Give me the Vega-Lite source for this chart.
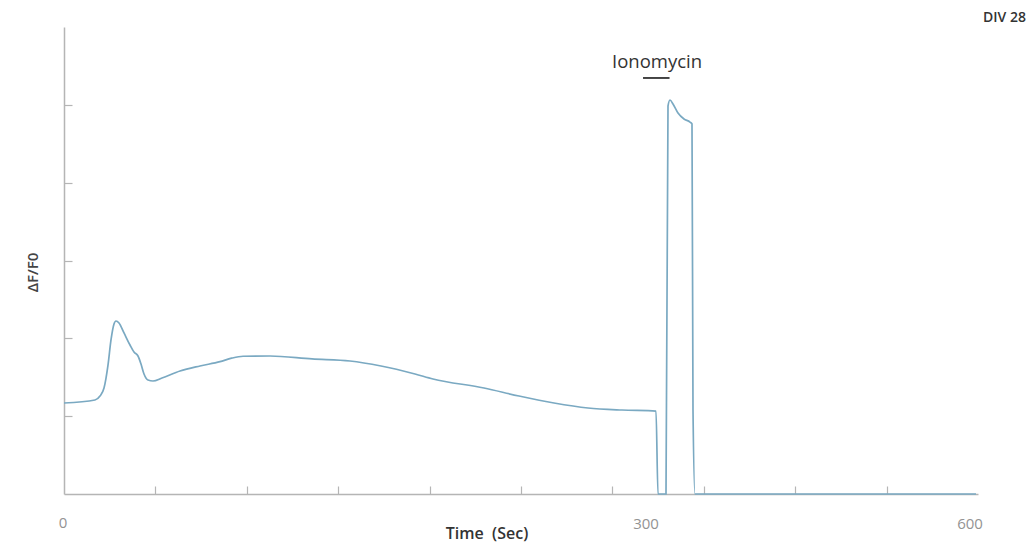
{
  "$schema": "https://vega.github.io/schema/vega-lite/v6.json",
  "width": 914,
  "height": 467,
  "autosize": "none",
  "padding": {"left": 64, "top": 27, "right": 50, "bottom": 50},
  "background": "white",
  "config": {"view": {"stroke": null}, "font": "Open Sans"},
  "datasets": {
    "trace": [
      {"t": 0, "v": 1.169}, {"t": 20.35, "v": 1.208}, {"t": 23.63, "v": 1.259}, {"t": 26.26, "v": 1.362},
      {"t": 28.88, "v": 1.657}, {"t": 30.85, "v": 1.979}, {"t": 32.82, "v": 2.184}, {"t": 34.14, "v": 2.223},
      {"t": 36.11, "v": 2.197}, {"t": 39.39, "v": 2.069}, {"t": 43.33, "v": 1.914}, {"t": 45.95, "v": 1.824},
      {"t": 48.58, "v": 1.773}, {"t": 50.55, "v": 1.67}, {"t": 52.52, "v": 1.542}, {"t": 55.14, "v": 1.465},
      {"t": 58.42, "v": 1.452}, {"t": 64.33, "v": 1.49}, {"t": 76.15, "v": 1.58}, {"t": 89.28, "v": 1.645},
      {"t": 102.41, "v": 1.7}, {"t": 110.0, "v": 1.745}, {"t": 117.51, "v": 1.77}, {"t": 135.23, "v": 1.773}, {"t": 162.8, "v": 1.735},
      {"t": 187.75, "v": 1.709}, {"t": 208.1, "v": 1.645}, {"t": 230.42, "v": 1.542}, {"t": 242.23, "v": 1.478},
      {"t": 275.71, "v": 1.362}, {"t": 298.69, "v": 1.259}, {"t": 321.66, "v": 1.169}, {"t": 343.98, "v": 1.105},
      {"t": 366.3, "v": 1.079}, {"t": 388.62, "v": 1.066}, {"t": 389.93, "v": 0}, {"t": 395.19, "v": 0},
      {"t": 396.5, "v": 4.985}, {"t": 397.81, "v": 5.062}, {"t": 399.78, "v": 5.011}, {"t": 403.06, "v": 4.895},
      {"t": 407.0, "v": 4.818}, {"t": 410.94, "v": 4.779}, {"t": 412.25, "v": 4.754}, {"t": 412.91, "v": 1.079},
      {"t": 414.22, "v": 0}, {"t": 598.69, "v": 0}
    ],
    "labels": [
      {"t": -0.66, "v": -0.37, "text": "0"},
      {"t": 382.1, "v": -0.385, "text": "300"},
      {"t": 594.8, "v": -0.385, "text": "600"}
    ],
    "notes": [
      {"t": 389.3, "v": 5.55, "text": "Ionomycin"}
    ],
    "bar": [
      {"t": 380.1, "t2": 397.5, "v": 5.345}
    ],
    "corner": [
      {"t": 631.5, "v": 6.116, "text": "DIV 28"}
    ],
    "xtitle": [
      {"t": 277.7, "v": -0.514, "text": "Time\u00a0\u00a0(Sec)"}
    ]
  },
  "layer": [
    {
      "data": {"name": "trace"},
      "mark": {"type": "line", "color": "#7aa9c2", "strokeWidth": 1.7, "interpolate": "monotone"},
      "encoding": {
        "x": {
          "field": "t", "type": "quantitative",
          "scale": {"domain": [0, 600], "nice": false, "zero": false},
          "axis": {
            "values": [60, 120, 180, 240, 300, 360, 420, 480, 540],
            "labels": false, "title": null, "grid": false,
            "tickSize": -8, "tickColor": "#b5b5b5", "tickWidth": 1.2,
            "domainColor": "#b5b5b5", "domainWidth": 1.5
          }
        },
        "y": {
          "field": "v", "type": "quantitative",
          "scale": {"domain": [0, 6], "nice": false, "zero": false},
          "axis": {
            "values": [1, 2, 3, 4, 5],
            "labels": false, "grid": false,
            "tickSize": -8, "tickColor": "#b5b5b5", "tickWidth": 1.2,
            "domainColor": "#b5b5b5", "domainWidth": 1.5,
            "title": "ΔF/F0", "titleFontSize": 15, "titleFontWeight": 600, "titleColor": "#444",
            "titleAngle": 270, "titleX": -32, "titleY": 245, "titleAlign": "center", "titleBaseline": "middle"
          }
        },
        "order": {"field": "t", "type": "quantitative"}
      }
    },
    {
      "data": {"name": "labels"},
      "mark": {"type": "text", "align": "center", "baseline": "middle", "fontSize": 15, "color": "#939393"},
      "encoding": {
        "x": {"field": "t", "type": "quantitative"},
        "y": {"field": "v", "type": "quantitative"},
        "text": {"field": "text"}
      }
    },
    {
      "data": {"name": "notes"},
      "mark": {"type": "text", "align": "center", "baseline": "middle", "fontSize": 18.5, "color": "#333"},
      "encoding": {
        "x": {"field": "t", "type": "quantitative"},
        "y": {"field": "v", "type": "quantitative"},
        "text": {"field": "text"}
      }
    },
    {
      "data": {"name": "bar"},
      "mark": {"type": "rule", "color": "#333", "strokeWidth": 1.8},
      "encoding": {
        "x": {"field": "t", "type": "quantitative"},
        "x2": {"field": "t2"},
        "y": {"field": "v", "type": "quantitative"}
      }
    },
    {
      "data": {"name": "corner"},
      "mark": {"type": "text", "align": "right", "baseline": "middle", "fontSize": 14, "fontWeight": 600, "color": "#333"},
      "encoding": {
        "x": {"field": "t", "type": "quantitative"},
        "y": {"field": "v", "type": "quantitative"},
        "text": {"field": "text"}
      }
    },
    {
      "data": {"name": "xtitle"},
      "mark": {"type": "text", "align": "center", "baseline": "middle", "fontSize": 16, "fontWeight": 600, "color": "#333"},
      "encoding": {
        "x": {"field": "t", "type": "quantitative"},
        "y": {"field": "v", "type": "quantitative"},
        "text": {"field": "text"}
      }
    }
  ]
}
